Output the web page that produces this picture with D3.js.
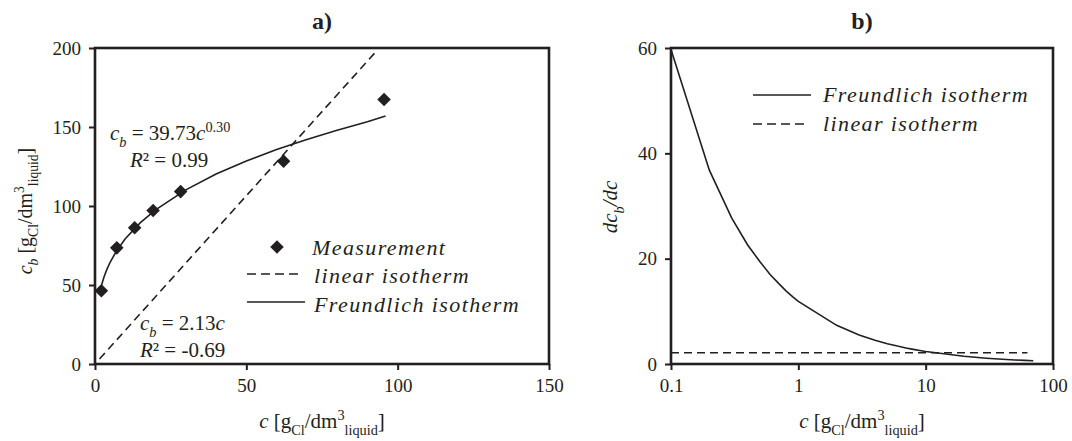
<!DOCTYPE html>
<html>
<head>
<meta charset="utf-8">
<script src="https://cdn.jsdelivr.net/npm/d3@7"></script>
<style>
body { margin:0; background:#fff; }
text { font-family: "Liberation Serif", "Times New Roman", serif; fill:#231f20; white-space: pre; }
</style>
</head>
<body>
<svg id="drawing_region"></svg>
<script>
// panel a) measured points
const meas_c  = [2.1, 7.2, 13.1, 19.2, 28.3, 62.3, 95.5];
const meas_cb = [46.4, 73.5, 86.2, 97.2, 109.1, 128.4, 167.4];
// panel a) Freundlich curve
const fr_c  = [1.5, 2, 3, 4, 5, 7, 10, 15, 20, 30, 40, 50, 60, 70, 80, 90, 96];
const fr_cb = [44.9, 48.9, 55.2, 60.2, 64.4, 71.2, 79.3, 89.5, 97.6, 110.2, 120.2, 128.5, 135.7, 142.1, 147.9, 153.3, 157.0];
// panel a) linear isotherm end points
const lin_c  = [1.5, 92.5];
const lin_cb = [3.2, 197];
// panel b) slopes
const slope_c  = [0.1, 0.2, 0.3, 0.4, 0.5, 0.6, 0.7, 0.8, 0.9, 1, 2, 3, 4, 5, 6, 7, 8, 9, 10, 20, 30, 40, 50, 60, 70];
const slope_fr = [59.7, 36.8, 27.7, 22.6, 19.4, 17.0, 15.3, 13.9, 12.8, 11.9, 7.34, 5.52, 4.52, 3.86, 3.40, 3.05, 2.78, 2.56, 2.38, 1.46, 1.10, 0.90, 0.77, 0.68, 0.61];
const slope_lin_c = [0.1, 63];
const slope_lin   = [2.13, 2.13];
// ticks
const ticks_a_x = [0, 50, 100, 150];
const ticks_a_y = [0, 50, 100, 150, 200];
const ticks_b_x = [0.1, 1, 10, 100];
const ticks_b_y = [0, 20, 40, 60];

const INK = '#231f20';

const svg = d3.select('#drawing_region')
    .attr('width', 1072)
    .attr('height', 441);

// text made of pieces: [string, 'i' | 'n', 'sub' | 'sup' | undefined]
function richText( parent, x, y, parts, size, opts ) {
    opts = opts || {};
    const t = parent.append('text')
        .attr('x', x)
        .attr('y', y)
        .attr('font-size', size)
        .attr('text-anchor', opts.anchor || 'start')
        .attr('letter-spacing', opts.spacing || 0);
    if (opts.transform) t.attr('transform', opts.transform);
    let shift = 0;
    parts.forEach( p => {
        const target = p[2] === 'sub' ? size * 0.32 : p[2] === 'sup' ? -size * 0.38 : 0;
        t.append('tspan')
            .attr('dy', target - shift)
            .attr('font-style', p[1] === 'i' ? 'italic' : 'normal')
            .attr('font-size', p[2] ? size * 0.68 : size)
            .text(p[0]);
        shift = target;
    });
    return t;
}

const unit_label = [['c', 'i'], [' [g', 'n'], ['Cl', 'n', 'sub'], ['/dm', 'n'], ['3', 'n', 'sup'], ['liquid', 'n', 'sub'], [']', 'n']];

function makePanel( config ) {
    const self = {};
    self.g = svg.append('g');
    const m = config.box;
    self.xscale = config.xscale.range([m.left, m.right]);
    self.yscale = d3.scaleLinear().domain(config.ydomain).range([m.bottom, m.top]);

    const xaxis = d3.axisBottom(self.xscale)
        .tickValues(config.xticks)
        .tickFormat(d => String(d))
        .tickSize(6)
        .tickSizeOuter(0)
        .tickPadding(9);
    const yaxis = d3.axisLeft(self.yscale)
        .tickValues(config.yticks)
        .tickSize(6)
        .tickSizeOuter(0)
        .tickPadding(8);

    const xg = self.g.append('g')
        .attr('transform', `translate(0, ${m.bottom})`)
        .call(xaxis);
    const yg = self.g.append('g')
        .attr('transform', `translate(${m.left}, 0)`)
        .call(yaxis);
    [xg, yg].forEach( a => {
        a.select('.domain').remove();
        a.selectAll('.tick line').attr('stroke', INK).attr('stroke-width', 2);
        a.selectAll('.tick text')
            .attr('fill', INK)
            .attr('font-family', '"Liberation Serif", serif')
            .attr('font-size', 19);
    });

    self.g.append('rect')
        .attr('x', m.left)
        .attr('y', m.top)
        .attr('width', m.right - m.left)
        .attr('height', m.bottom - m.top)
        .attr('fill', 'none')
        .attr('stroke', INK)
        .attr('stroke-width', 2.6);

    self.g.append('text')
        .attr('x', (m.left + m.right) / 2)
        .attr('y', 29)
        .attr('text-anchor', 'middle')
        .attr('font-size', 24)
        .attr('font-weight', 'bold')
        .text(config.title);

    richText(self.g, (m.left + m.right) / 2, 428, unit_label, 21, {anchor: 'middle'});

    self.line = d3.line()
        .x(d => self.xscale(d[0]))
        .y(d => self.yscale(d[1]));
    return self;
}

function drawLine( panel, xs, ys, dashed ) {
    panel.g.append('path')
        .datum(xs.map((x, i) => [x, ys[i]]))
        .attr('d', panel.line)
        .attr('fill', 'none')
        .attr('stroke', INK)
        .attr('stroke-width', 1.6)
        .attr('stroke-dasharray', dashed ? '8,5' : null);
}

function legendLine( g, x1, x2, y, dashed ) {
    g.append('line')
        .attr('x1', x1).attr('x2', x2)
        .attr('y1', y).attr('y2', y)
        .attr('stroke', INK)
        .attr('stroke-width', 1.6)
        .attr('stroke-dasharray', dashed ? '9,5' : null);
}

function legendText( g, x, y, str ) {
    g.append('text')
        .attr('x', x)
        .attr('y', y)
        .attr('font-size', 22)
        .attr('font-style', 'italic')
        .attr('letter-spacing', 1.4)
        .text(str);
}

const diamond = d3.symbol().type(d3.symbolSquare).size(92);

// ---------- panel a ----------
const pa = makePanel({
    box: {left: 95, right: 549, top: 48, bottom: 364},
    xscale: d3.scaleLinear().domain([0, 150]),
    ydomain: [0, 200],
    xticks: ticks_a_x,
    yticks: ticks_a_y,
    title: 'a)'
});

drawLine(pa, lin_c, lin_cb, true);
drawLine(pa, fr_c, fr_cb, false);

pa.g.selectAll('.meas')
    .data(meas_c.map((c, i) => [c, meas_cb[i]]))
    .enter()
    .append('path')
    .attr('class', 'meas')
    .attr('d', diamond)
    .attr('fill', INK)
    .attr('transform', d => `translate(${pa.xscale(d[0])}, ${pa.yscale(d[1])}) rotate(45)`);

richText(pa.g, 110, 140, [['c', 'i'], ['b', 'i', 'sub'], [' = 39.73', 'n'], ['c', 'i'], ['0.30', 'n', 'sup']], 21);
richText(pa.g, 130, 167, [['R', 'i'], ['\u00b2 = 0.99', 'n']], 21);
richText(pa.g, 140, 330, [['c', 'i'], ['b', 'i', 'sub'], [' = 2.13', 'n'], ['c', 'i']], 21);
richText(pa.g, 140, 357, [['R', 'i'], ['\u00b2 = -0.69', 'n']], 21);

pa.g.append('path')
    .attr('d', diamond)
    .attr('fill', INK)
    .attr('transform', 'translate(277, 247) rotate(45)');
legendText(pa.g, 312, 255, 'Measurement');
legendLine(pa.g, 247, 302, 274, true);
legendText(pa.g, 314, 283, 'linear isotherm');
legendLine(pa.g, 247, 305, 302, false);
legendText(pa.g, 314, 312, 'Freundlich isotherm');

richText(pa.g, -211, 32,
    [['c', 'i'], ['b', 'i', 'sub'], [' [g', 'n'], ['Cl', 'n', 'sub'], ['/dm', 'n'], ['3', 'n', 'sup'], ['liquid', 'n', 'sub'], [']', 'n']],
    20, {anchor: 'middle', transform: 'rotate(-90)'});

// ---------- panel b ----------
const pb = makePanel({
    box: {left: 671, right: 1053, top: 48, bottom: 364},
    xscale: d3.scaleLog().domain([0.1, 100]),
    ydomain: [0, 60],
    xticks: ticks_b_x,
    yticks: ticks_b_y,
    title: 'b)'
});

drawLine(pb, slope_lin_c, slope_lin, true);
drawLine(pb, slope_c, slope_fr, false);

legendLine(pb.g, 753, 811, 95, false);
legendText(pb.g, 823, 102, 'Freundlich isotherm');
legendLine(pb.g, 753, 808, 124, true);
legendText(pb.g, 823, 131, 'linear isotherm');

richText(pb.g, -207, 617,
    [['dc', 'i'], ['b', 'i', 'sub'], ['/', 'i'], ['dc', 'i']],
    21, {anchor: 'middle', transform: 'rotate(-90)'});
</script>
</body>
</html>
